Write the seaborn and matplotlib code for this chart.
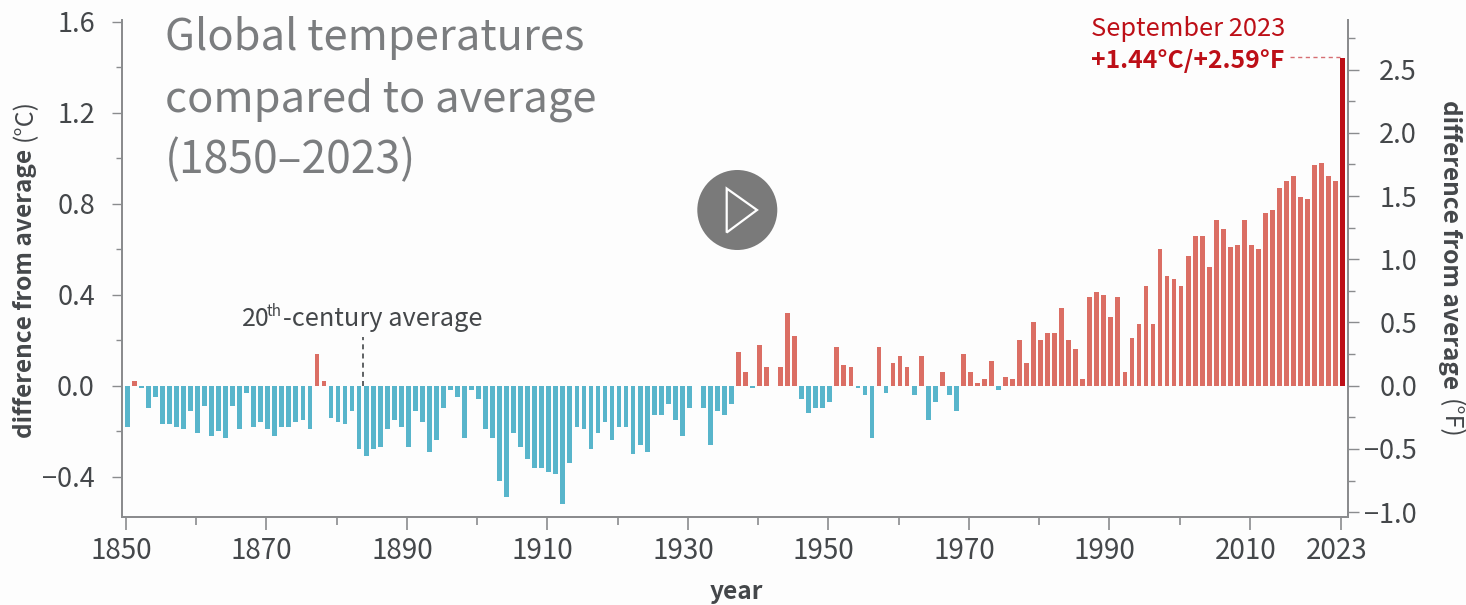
import matplotlib
matplotlib.use('Agg')
import matplotlib.pyplot as plt
from matplotlib.patches import Circle, Polygon
from matplotlib.transforms import IdentityTransform, ScaledTranslation
import pandas as pd
import seaborn as sns

W, H = 1466, 605

years = list(range(1850, 2024))
anom_1850s = [-0.18, 0.02, -0.01, -0.10, -0.05, -0.17, -0.17, -0.18, -0.19, -0.11]
anom_1860s = [-0.21, -0.09, -0.22, -0.20, -0.23, -0.09, -0.19, -0.03, -0.18, -0.16]
anom_1870s = [-0.19, -0.22, -0.18, -0.18, -0.16, -0.15, -0.19, 0.14, 0.02, -0.14]
anom_1880s = [-0.16, -0.17, -0.11, -0.28, -0.31, -0.28, -0.27, -0.19, -0.15, -0.18]
anom_1890s = [-0.27, -0.11, -0.16, -0.29, -0.24, -0.10, -0.02, -0.05, -0.23, -0.02]
anom_1900s = [-0.06, -0.19, -0.23, -0.42, -0.49, -0.21, -0.27, -0.32, -0.36, -0.36]
anom_1910s = [-0.38, -0.39, -0.52, -0.34, -0.18, -0.19, -0.28, -0.21, -0.16, -0.24]
anom_1920s = [-0.18, -0.18, -0.30, -0.26, -0.29, -0.13, -0.13, -0.08, -0.15, -0.22]
anom_1930s = [-0.10, 0.00, -0.10, -0.26, -0.11, -0.13, -0.08, 0.15, 0.06, -0.01]
anom_1940s = [0.18, 0.08, 0.00, 0.08, 0.32, 0.22, -0.06, -0.12, -0.10, -0.10]
anom_1950s = [-0.07, 0.17, 0.09, 0.08, -0.01, -0.04, -0.23, 0.17, -0.03, 0.10]
anom_1960s = [0.13, 0.08, -0.04, 0.13, -0.15, -0.07, 0.06, -0.04, -0.11, 0.14]
anom_1970s = [0.06, 0.01, 0.03, 0.11, -0.02, 0.04, 0.03, 0.20, 0.10, 0.28]
anom_1980s = [0.20, 0.23, 0.23, 0.34, 0.20, 0.16, 0.03, 0.39, 0.41, 0.40]
anom_1990s = [0.30, 0.39, 0.06, 0.21, 0.27, 0.44, 0.27, 0.60, 0.48, 0.47]
anom_2000s = [0.44, 0.57, 0.66, 0.66, 0.52, 0.73, 0.69, 0.61, 0.62, 0.73]
anom_2010s = [0.62, 0.60, 0.76, 0.77, 0.87, 0.90, 0.92, 0.83, 0.82, 0.97]
anom_2020s = [0.98, 0.92, 0.90, 1.44]

anomalies = (anom_1850s + anom_1860s + anom_1870s + anom_1880s + anom_1890s + anom_1900s
             + anom_1910s + anom_1920s + anom_1930s + anom_1940s + anom_1950s + anom_1960s
             + anom_1970s + anom_1980s + anom_1990s + anom_2000s + anom_2010s + anom_2020s)

labelled_years = [1850, 1870, 1890, 1910, 1930, 1950, 1970, 1990, 2010, 2023]
short_years = [1860, 1880, 1900, 1920, 1940, 1960, 1980, 2000]
c_ticks = [-0.4, 0.0, 0.4, 0.8, 1.2, 1.6]
c_minor = [-0.2, 0.2, 0.6, 1.0, 1.4]
f_ticks = [-1.0, -0.5, 0.0, 0.5, 1.0, 1.5, 2.0, 2.5]
f_minor = [-0.75, -0.25, 0.25, 0.75, 1.25, 1.75, 2.25, 2.75]

BG = '#fdfdfd'
TEXT = '#44474a'
TITLE = '#7b7d7f'
AXIS = '#8a8c8e'
DARK_RED = '#bd0f17'
COLD = '#58b5cb'
WARM = '#db6e64'


def minus(v, digits=1):
    return f'{v:.{digits}f}'.replace('-', '\u2212')


def px(x, y):
    return x / W, 1 - y / H


sns.set_theme(style='white')
plt.rcParams['font.family'] = ['Noto Sans CJK SC', 'DejaVu Sans']

df = pd.DataFrame({'year': years, 'anomaly': anomalies})
df['group'] = ['cold' if v < 0 else 'warm' for v in df['anomaly']]
df.loc[df['year'] == 2023, 'group'] = 'latest'

fig = plt.figure(figsize=(W / 100, H / 100), dpi=100, facecolor=BG)
ax = fig.add_axes([122 / W, 1 - 517 / H, (1348.3 - 122) / W, (517 - 20) / H], facecolor=BG)

sns.barplot(data=df, x='year', y='anomaly', hue='group', native_scale=True, dodge=False,
            palette={'cold': COLD, 'warm': WARM, 'latest': DARK_RED}, width=0.68,
            saturation=1, legend=False, linewidth=0, ax=ax)

ax.set_xlim(1849.25, 2023.8)
ax.set_ylim(-0.577, 1.607)
ax.set_xlabel('')
ax.set_ylabel('')
ax.set_xticks([y - 0.2 for y in labelled_years], [str(y) for y in labelled_years])
ax.set_xticks([y - 0.2 for y in short_years], minor=True)
ax.set_yticks(c_ticks, [minus(v) for v in c_ticks])
ax.set_yticks(c_minor, minor=True)
ax.tick_params(axis='x', which='major', length=9, width=1.2, color=AXIS, labelcolor=TEXT, labelsize=20, pad=5, bottom=True)
ax.tick_params(axis='x', which='minor', length=5.5, width=1.2, color=AXIS, bottom=True)
ax.tick_params(axis='y', which='major', length=7.5, width=1, color=AXIS, labelcolor=TEXT, labelsize=19.5, pad=12, left=True)
ax.tick_params(axis='y', which='minor', length=4.5, width=1, color=AXIS, left=True)

# year labels sit a little left of their ticks in the original
shift = ScaledTranslation(-4.7 / 100, 0, fig.dpi_scale_trans)
for lab in ax.get_xticklabels():
    lab.set_transform(lab.get_transform() + shift)

ax2 = ax.twinx()
ax2.set_ylim(-0.577 * 1.8, 1.607 * 1.8)
ax2.grid(False)
ax2.set_yticks(f_ticks, [minus(v) for v in f_ticks])
ax2.set_yticks(f_minor, minor=True)
ax2.tick_params(axis='y', which='major', length=8, width=1, color=AXIS, labelcolor=TEXT, labelsize=19.5, pad=41.5, right=True)
ax2.tick_params(axis='y', which='minor', length=5, width=1, color=AXIS, right=True)
for lab in ax2.get_yticklabels():
    lab.set_ha('right')

for a in (ax, ax2):
    a.spines['top'].set_visible(False)
    for side in ('left', 'right', 'bottom'):
        a.spines[side].set_color(AXIS)
        a.spines[side].set_linewidth(1.3)

# annotations tied to the data
ax.plot([1883.5, 1883.5], [0, 0.215], color=TEXT, lw=1.2, dashes=(3, 2.5))
ax.plot([2015.5, 2022.6], [1.445, 1.445], color=DARK_RED, lw=1, dashes=(3, 2.5), alpha=0.6)

# title and labels
fig.text(*px(165, 38), 'Global temperatures', color=TITLE, fontsize=31.3, va='center')
fig.text(*px(165, 100), 'compared to average', color=TITLE, fontsize=31.3, va='center')
fig.text(*px(165, 160), '(1850\u20132023)', color=TITLE, fontsize=32, va='center')

fig.text(*px(242, 319), '20', color=TEXT, fontsize=18, va='center')
fig.text(*px(267, 312), 'th', color=TEXT, fontsize=11, va='center')
fig.text(*px(283, 319), '-century average', color=TEXT, fontsize=18.3, va='center')

fig.text(*px(1091, 29), 'September 2023', color=DARK_RED, fontsize=18.3, va='center')
fig.text(*px(1091, 61), '+1.44\u00b0C/+2.59\u00b0F', color=DARK_RED, fontsize=17.8, fontweight='bold', va='center')

fig.text(*px(25, 438), 'difference from average', color=TEXT, fontsize=17.6, fontweight='bold',
         rotation=90, ha='center', va='bottom')
fig.text(*px(25, 141), '(\u00b0C)', color=TEXT, fontsize=18, rotation=90, ha='center', va='bottom')
fig.text(*px(1450, 100), 'difference from average', color=TEXT, fontsize=17.6, fontweight='bold',
         rotation=270, ha='center', va='top')
fig.text(*px(1450, 399), '(\u00b0F)', color=TEXT, fontsize=18, rotation=270, ha='center', va='top')
fig.text(*px(736, 592), 'year', color=TEXT, fontsize=17.6, fontweight='bold', ha='center', va='center')

# video play button sitting on top of the chart
fig.add_artist(Circle((737.3, H - 210), 40, transform=IdentityTransform(), facecolor='#7a7a7a', edgecolor='none'))
fig.add_artist(Polygon([(726.7, H - 188.5), (757, H - 210), (726.7, H - 232.5)], closed=True,
                       transform=IdentityTransform(), facecolor='none', edgecolor='white', lw=1.6))

fig.savefig('out.png', dpi=100, facecolor=BG)
